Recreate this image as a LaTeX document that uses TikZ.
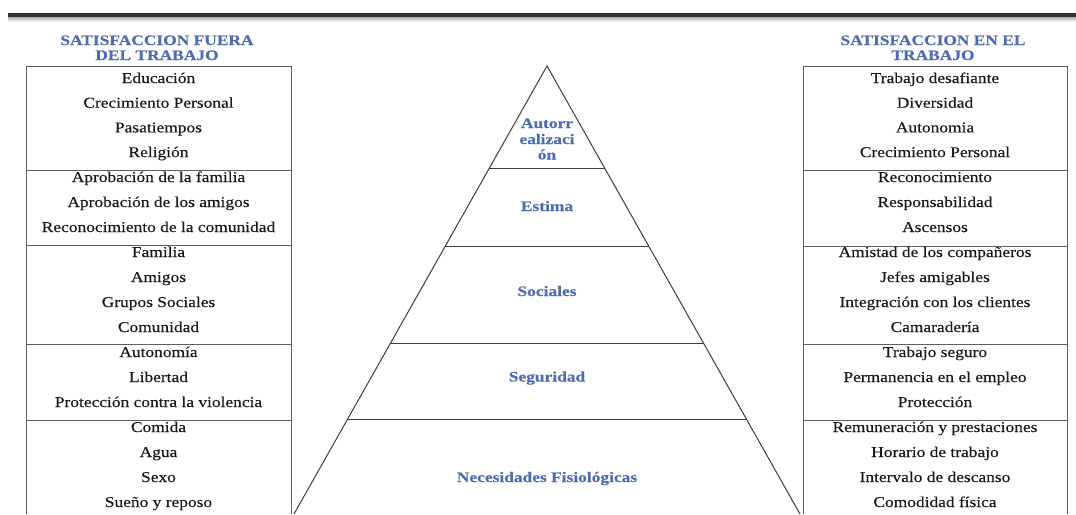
\documentclass[tikz,border=0pt]{standalone}
\usepackage{fontspec}
\setmainfont{Liberation Serif}
\newfontfamily\itemfont{Liberation Serif}[FakeStretch=1.16,FakeBold=0.3]
\newfontfamily\hdrfont{Liberation Serif}[FakeStretch=1.2,FakeBold=0.3]
\usetikzlibrary{calc}
\definecolor{hdrblue}{RGB}{78,108,176}
\definecolor{boxline}{RGB}{95,95,95}
\definecolor{pyrline}{RGB}{60,60,60}
\definecolor{barcol}{RGB}{50,50,50}
\tikzset{
  item/.style={anchor=base, inner sep=0pt, font=\itemfont\fontsize{15}{17}\selectfont, text=black!90},
  hdr/.style={anchor=base, inner sep=0pt, font=\hdrfont\fontsize{14.5}{16}\selectfont\bfseries, text=hdrblue},
  lvl/.style={anchor=base, inner sep=0pt, font=\hdrfont\fontsize{14.5}{16}\selectfont\bfseries, text=hdrblue},
  boxedge/.style={draw=boxline, line width=1pt},
  pyr/.style={draw=pyrline, line width=1pt},
}
\begin{document}
\begin{tikzpicture}[x=1pt,y=-1pt]
\useasboundingbox (0,0) rectangle (1076,514);
% top bar
\fill[barcol] (8,13) rectangle (1076,17.5);
\shade[top color=gray!55, bottom color=white] (8,17.5) rectangle (1076,22);

% headers
\node[hdr] (hl1) at (157,45) {SATISFACCION FUERA};
\node[hdr] (hl2) at (157,60) {DEL TRABAJO};
\node[hdr] (hr1) at (933,45) {SATISFACCION EN EL};
\node[hdr] (hr2) at (933,60) {TRABAJO};

% left box
\coordinate (LTL) at (26,66);  \coordinate (LTR) at (291,66);
\coordinate (LBL) at (26,514); \coordinate (LBR) at (291,514);
\draw[boxedge] (LBL) -- (LTL) -- (LTR) -- (LBR);
\foreach \yy in {170,245,344,420} \draw[boxedge] (26,\yy) -- (291,\yy);

% right box
\coordinate (RTL) at (803,66);  \coordinate (RTR) at (1067,66);
\coordinate (RBL) at (803,514); \coordinate (RBR) at (1067,514);
\draw[boxedge] (RBL) -- (RTL) -- (RTR) -- (RBR);
\foreach \yy in {170,246,344,420} \draw[boxedge] (803,\yy) -- (1067,\yy);

% left items
\foreach \t [count=\i] in {Educación,Crecimiento Personal,Pasatiempos,Religión}
  \node[item] (la\i) at (158.5,{83+(\i-1)*24.7}) {\t};
\foreach \t [count=\i] in {Aprobación de la familia,Aprobación de los amigos,Reconocimiento de la comunidad}
  \node[item] (lb\i) at (158.5,{182+(\i-1)*25}) {\t};
\foreach \t [count=\i] in {Familia,Amigos,Grupos Sociales,Comunidad}
  \node[item] (lc\i) at (158.5,{257+(\i-1)*25}) {\t};
\foreach \t [count=\i] in {Autonomía,Libertad,Protección contra la violencia}
  \node[item] (ld\i) at (158.5,{357+(\i-1)*25}) {\t};
\foreach \t [count=\i] in {Comida,Agua,Sexo,Sueño y reposo}
  \node[item] (le\i) at (158.5,{432+(\i-1)*25}) {\t};

% right items
\foreach \t [count=\i] in {Trabajo desafiante,Diversidad,Autonomia,Crecimiento Personal}
  \node[item] (ra\i) at (935,{83+(\i-1)*24.7}) {\t};
\foreach \t [count=\i] in {Reconocimiento,Responsabilidad,Ascensos}
  \node[item] (rb\i) at (935,{182+(\i-1)*25}) {\t};
\foreach \t [count=\i] in {Amistad de los compañeros,Jefes amigables,Integración con los clientes,Camaradería}
  \node[item] (rc\i) at (935,{257+(\i-1)*25}) {\t};
\foreach \t [count=\i] in {Trabajo seguro,Permanencia en el empleo,Protección}
  \node[item] (rd\i) at (935,{357+(\i-1)*25}) {\t};
\foreach \t [count=\i] in {Remuneración y prestaciones,Horario de trabajo,Intervalo de descanso,Comodidad física}
  \node[item] (re\i) at (935,{432+(\i-1)*25}) {\t};

% pyramid
\coordinate (apex) at (547,66);
\coordinate (pbl) at (294,514);
\coordinate (pbr) at (800,514);
\draw[pyr] (pbl) -- (apex) -- (pbr);
\foreach \tt [count=\k] in {0.2277,0.404,0.6205,0.79}{
  \coordinate (dl\k) at ($(apex)!\tt!(pbl)$);
  \coordinate (dr\k) at ($(apex)!\tt!(pbr)$);
  \draw[pyr] (dl\k) -- (dr\k);
}

% level labels
\node[lvl] (aut1) at (547,128) {Autorr};
\node[lvl] (aut2) at (547,144) {ealizaci};
\node[lvl] (aut3) at (547,159.5) {ón};
\node[lvl] (est) at (547,211) {Estima};
\node[lvl] (soc) at (547,296) {Sociales};
\node[lvl] (seg) at (547,381.5) {Seguridad};
\node[lvl] (nec) at (547,482) {Necesidades Fisiológicas};
\end{tikzpicture}
\end{document}
